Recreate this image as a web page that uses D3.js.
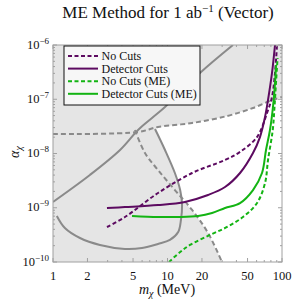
<!DOCTYPE html>
<html><head><meta charset="utf-8">
<script src="https://cdn.jsdelivr.net/npm/d3@7"></script>
<style>body{margin:0;background:#fff}svg{display:block}</style>
</head><body>
<svg id="c" width="292" height="302" font-family="'Liberation Serif','Times New Roman',Times,serif"></svg>
<script>
// ---- data (mass in MeV, alpha) ----
const xTickValues = [1, 2, 5, 10, 20, 50, 100];
const yTickExps = [-10, -9, -8, -7, -6];

const boundDiagonal = [[1,1.28e-9],[2.10,4.02e-9],[3.85,1.16e-8],[5.53,2.71e-8],[7.32,4.51e-8],[9.51,7.2e-8],[19.2,3.05e-7],[37.3,1e-6]];
const boundFlatDashed = [[1,2.29e-8],[5.53,2.49e-8],[8.26,3.08e-8],[16.4,3.65e-8],[33.1,4.91e-8],[55.8,6.9e-8],[78.5,9.3e-8],[100,1.10e-7]];
const boundFallingDashed = [[5.2,2.71e-8],[6.36,1.02e-8],[8.26,4.97e-9],[11.6,2.12e-9],[16.4,9.1e-10],[22.6,3.43e-10],[29.9,1e-10]];
const boundLoop = [[1.08,7.05e-10],[1.27,4.23e-10],[1.72,2.77e-10],[2.57,2.06e-10],[4.25,1.74e-10],[5.99,1.81e-10],[8.26,2.15e-10],[10.5,2.55e-10],[12.4,3.57e-10],[13.1,5.94e-10],[13.4,1.12e-9],[12.9,2.12e-9],[11.6,4.37e-9],[9.51,1.16e-8],[7.78,2.83e-8]];
const allowedRegion = [[7.78,2.83e-8],[8.26,3.08e-8],[16.4,3.65e-8],[33.1,4.91e-8],[55.8,6.9e-8],[78.5,9.3e-8],[100,1.10e-7],[100,1e-10],[29.9,1e-10],[22.6,3.43e-10],[16.4,9.1e-10],[13.2,1.39e-9],[12.9,2.12e-9],[11.6,4.37e-9],[9.51,1.16e-8]];

const noCuts = [[2.96,4.42e-10],[4.25,6.75e-10],[8.26,1.87e-9],[16.4,4.37e-9],[31.8,7.59e-9],[43,1.07e-8],[60.5,2.01e-8],[74,5.58e-8],[81.8,1.10e-7],[86.9,3.05e-7],[90.4,1e-6]];
const detectorCuts = [[2.96,9.9e-10],[4.25,1.03e-9],[8.26,1.12e-9],[14.2,1.28e-9],[22.6,1.72e-9],[31.8,2.41e-9],[43,4.37e-9],[55.8,1.02e-8],[64.2,2.01e-8],[71.1,4.71e-8],[75.5,9.7e-8],[81.8,3.05e-7],[86.9,1e-6]];
const noCutsME = [[10.3,1e-10],[12.9,1.53e-10],[15.7,2.06e-10],[23.5,3.15e-10],[33.1,4.42e-10],[45.6,6.75e-10],[60.5,1.22e-9],[71.1,2.86e-9],[75.5,7.59e-9],[83,2.71e-8],[86,7.2e-8],[88.6,2.0e-7],[91.5,5.76e-7]];
const detectorCutsME = [[4.90,7.05e-10],[8.26,6.75e-10],[12.4,6.75e-10],[18.5,7.05e-10],[24.5,8.0e-10],[31.8,9.9e-10],[43,1.22e-9],[55.8,2.12e-9],[66.9,4.37e-9],[72.5,1.16e-8],[78.5,2.71e-8],[83.4,7.2e-8],[86.9,2.0e-7],[88.6,4.28e-7]];

const seriesNames = ["No Cuts", "Detector Cuts", "No Cuts (ME)", "Detector Cuts (ME)"];

// ---- layout ----
const L = 53, R = 282, T = 45, B = 262;
const PURPLE = "#5c0a60", GREEN = "#13b413", GRAY = "#8a8a8a";
const svg = d3.select("#c");
const x = d3.scaleLog().domain([1, 100]).range([L, R]);
const y = d3.scaleLog().domain([1e-10, 1e-6]).range([B, T]);
const line = d3.line().x(d => x(d[0])).y(d => y(d[1])).curve(d3.curveCatmullRom.alpha(0.5));

svg.append("defs").append("clipPath").attr("id", "clip")
  .append("rect").attr("x", L).attr("y", T).attr("width", R - L).attr("height", B - T);

const g = svg.append("g").attr("clip-path", "url(#clip)");
g.append("rect").attr("x", L).attr("y", T).attr("width", R - L).attr("height", B - T).attr("fill", "#e5e5e5");
g.append("path").attr("d", d3.line().x(d => x(d[0])).y(d => y(d[1])).curve(d3.curveLinearClosed)(allowedRegion)).attr("fill", "#ffffff");

const grayLines = [[boundDiagonal, null], [boundLoop, null], [boundFlatDashed, "5,3"], [boundFallingDashed, "5,3"]];
grayLines.forEach(([d, dash]) => {
  g.append("path").attr("d", line(d)).attr("fill", "none").attr("stroke", GRAY)
    .attr("stroke-width", 2).attr("stroke-dasharray", dash);
});

const colored = [[noCuts, PURPLE, "4,2.5"], [detectorCuts, PURPLE, null], [noCutsME, GREEN, "4,2.5"], [detectorCutsME, GREEN, null]];
colored.forEach(([d, c, dash]) => {
  g.append("path").attr("d", line(d)).attr("fill", "none").attr("stroke", c)
    .attr("stroke-width", 2).attr("stroke-dasharray", dash);
});

// ---- frame and ticks ----
const FRAME = "#a0a0a0";
svg.append("rect").attr("x", L).attr("y", T).attr("width", R - L).attr("height", B - T)
  .attr("fill", "none").attr("stroke", FRAME).attr("stroke-width", 1);

const xMinor = [];
[1, 10].forEach(dec => { for (let k = 1; k <= 9; k++) xMinor.push(dec * k); });
xMinor.push(100);
xMinor.forEach(v => {
  const len = xTickValues.includes(v) ? 4 : 2;
  svg.append("line").attr("x1", x(v)).attr("x2", x(v)).attr("y1", B).attr("y2", B - len).attr("stroke", FRAME);
  svg.append("line").attr("x1", x(v)).attr("x2", x(v)).attr("y1", T).attr("y2", T + len).attr("stroke", FRAME);
});
for (let e = -10; e <= -6; e++) {
  for (let k = 1; k <= 9; k++) {
    if (e === -6 && k > 1) break;
    const v = k * Math.pow(10, e);
    const len = k === 1 ? 4 : 2;
    svg.append("line").attr("x1", L).attr("x2", L + len).attr("y1", y(v)).attr("y2", y(v)).attr("stroke", FRAME);
    svg.append("line").attr("x1", R).attr("x2", R - len).attr("y1", y(v)).attr("y2", y(v)).attr("stroke", FRAME);
  }
}

xTickValues.forEach(v => {
  svg.append("text").attr("x", x(v)).attr("y", 280).attr("text-anchor", "middle")
    .attr("font-size", 12.5).attr("fill", "#111").text(v);
});
yTickExps.forEach(e => {
  const t = svg.append("text").attr("x", 49).attr("y", y(Math.pow(10, e)) + 3.5)
    .attr("text-anchor", "end").attr("font-size", 12.5).attr("fill", "#111");
  t.append("tspan").text("10");
  t.append("tspan").attr("dy", -5).attr("font-size", 9).text("\u2212" + Math.abs(e));
});

// ---- titles ----
const title = svg.append("text").attr("x", 168).attr("y", 18).attr("text-anchor", "middle")
  .attr("font-size", 17).attr("fill", "#111");
title.append("tspan").text("ME Method for 1 ab");
title.append("tspan").attr("dy", -6).attr("font-size", 11).text("\u22121");
title.append("tspan").attr("dy", 6).text(" (Vector)");

const xl = svg.append("text").attr("x", 167).attr("y", 294).attr("text-anchor", "middle")
  .attr("font-size", 14).attr("fill", "#111");
xl.append("tspan").attr("font-style", "italic").text("m");
xl.append("tspan").attr("font-style", "italic").attr("dy", 3).attr("font-size", 10).text("\u03c7");
xl.append("tspan").attr("dy", -3).text(" (MeV)");

const yl = svg.append("text").attr("transform", "translate(19,152) rotate(-90)").attr("text-anchor", "middle")
  .attr("font-size", 14).attr("fill", "#111");
yl.append("tspan").attr("font-style", "italic").text("\u03b1");
yl.append("tspan").attr("font-style", "italic").attr("dy", 3).attr("font-size", 10).text("\u03c7");

// ---- legend ----
const lg = svg.append("g");
lg.append("rect").attr("x", 64).attr("y", 46).attr("width", 136).attr("height", 59)
  .attr("fill", "#f7f7f7").attr("stroke", "#111").attr("stroke-width", 1);
colored.forEach(([d, c, dash], i) => {
  const yy = 56 + i * 12.6;
  lg.append("line").attr("x1", 68).attr("x2", 98).attr("y1", yy).attr("y2", yy)
    .attr("stroke", c).attr("stroke-width", 2).attr("stroke-dasharray", dash);
  lg.append("text").attr("x", 101.5).attr("y", yy + 4).attr("font-size", 12).attr("fill", "#111").text(seriesNames[i]);
});
</script>
</body></html>
